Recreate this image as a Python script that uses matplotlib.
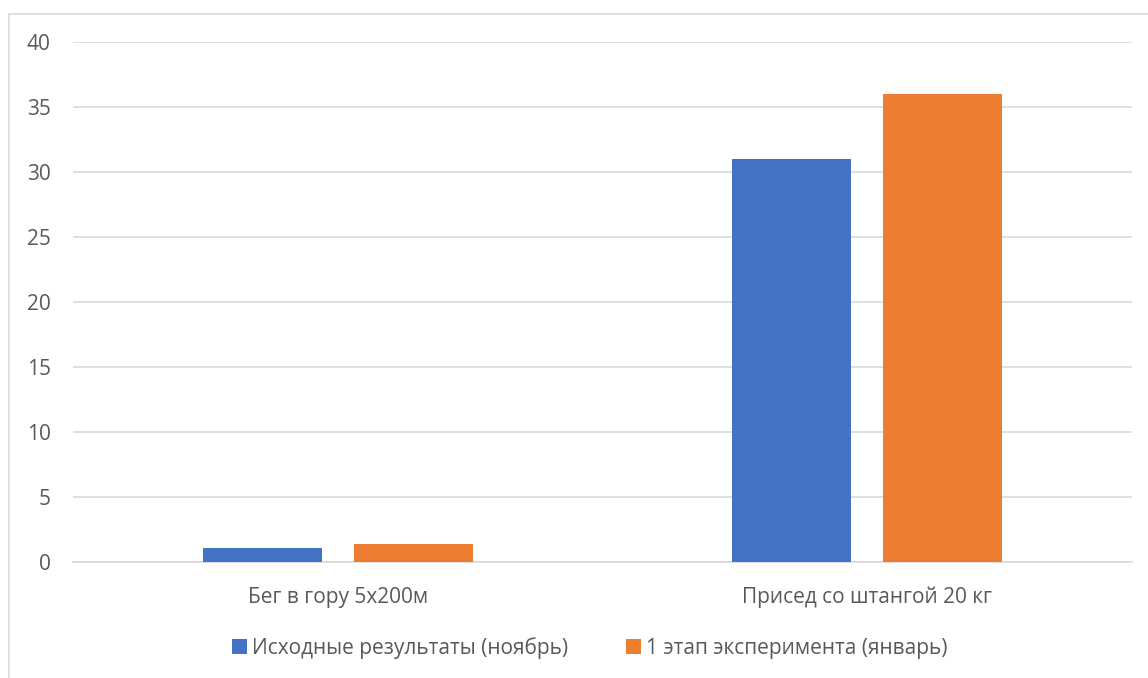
import matplotlib
matplotlib.use("Agg")
import matplotlib.pyplot as plt
import numpy as np
from matplotlib.patches import Rectangle

categories = ["Бег в гору 5х200м", "Присед со штангой 20 кг"]
series_names = ["Исходные результаты (ноябрь)", "1 этап эксперимента (январь)"]
nov_values = [1.1, 31]
jan_values = [1.4, 36]
yticks = [0, 5, 10, 15, 20, 25, 30, 35, 40]

plt.rcParams["font.family"] = ["Open Sans", "DejaVu Sans"]
text_color = "#595959"

fig = plt.figure(figsize=(11.48, 6.78), dpi=100)
W, H = 1148, 678
ax = fig.add_axes([73 / W, 1 - 562 / H, (1132 - 73) / W, (562 - 42) / H])

# chart area border
fig.patches.append(Rectangle((8.5 / W, -0.1), 1.2, 1 - 13.5 / H + 0.1,
                             transform=fig.transFigure, fill=False,
                             edgecolor="#d9d9d9", linewidth=1.2))

x = np.arange(len(categories))
w = 0.225
off = 0.1425
ax.bar(x - off, nov_values, w, color="#4472c4", label=series_names[0], zorder=3)
ax.bar(x + off, jan_values, w, color="#ed7d31", label=series_names[1], zorder=3)

ax.set_xlim(-0.5, 1.5)
ax.set_ylim(0, 40)
ax.set_yticks(yticks)
ax.set_xticks(x)
ax.set_xticklabels(categories)
ax.grid(axis="y", color="#d9d9d9", linewidth=1.2, zorder=0)
for s in ["top", "right", "left"]:
    ax.spines[s].set_visible(False)
ax.spines["bottom"].set_color("#d9d9d9")
ax.spines["bottom"].set_linewidth(1.2)
ax.tick_params(axis="both", length=0, labelsize=15, colors=text_color)
ax.tick_params(axis="y", pad=16)
ax.tick_params(axis="x", pad=18)

leg = fig.legend(loc="center", bbox_to_anchor=(590 / W, 1 - 648 / H), ncol=2,
                 frameon=False, fontsize=15, handlelength=0.7, handleheight=0.7,
                 handletextpad=0.25, columnspacing=2.8)
for t in leg.get_texts():
    t.set_color(text_color)

fig.savefig("out.png", dpi=100)
plt.close(fig)
